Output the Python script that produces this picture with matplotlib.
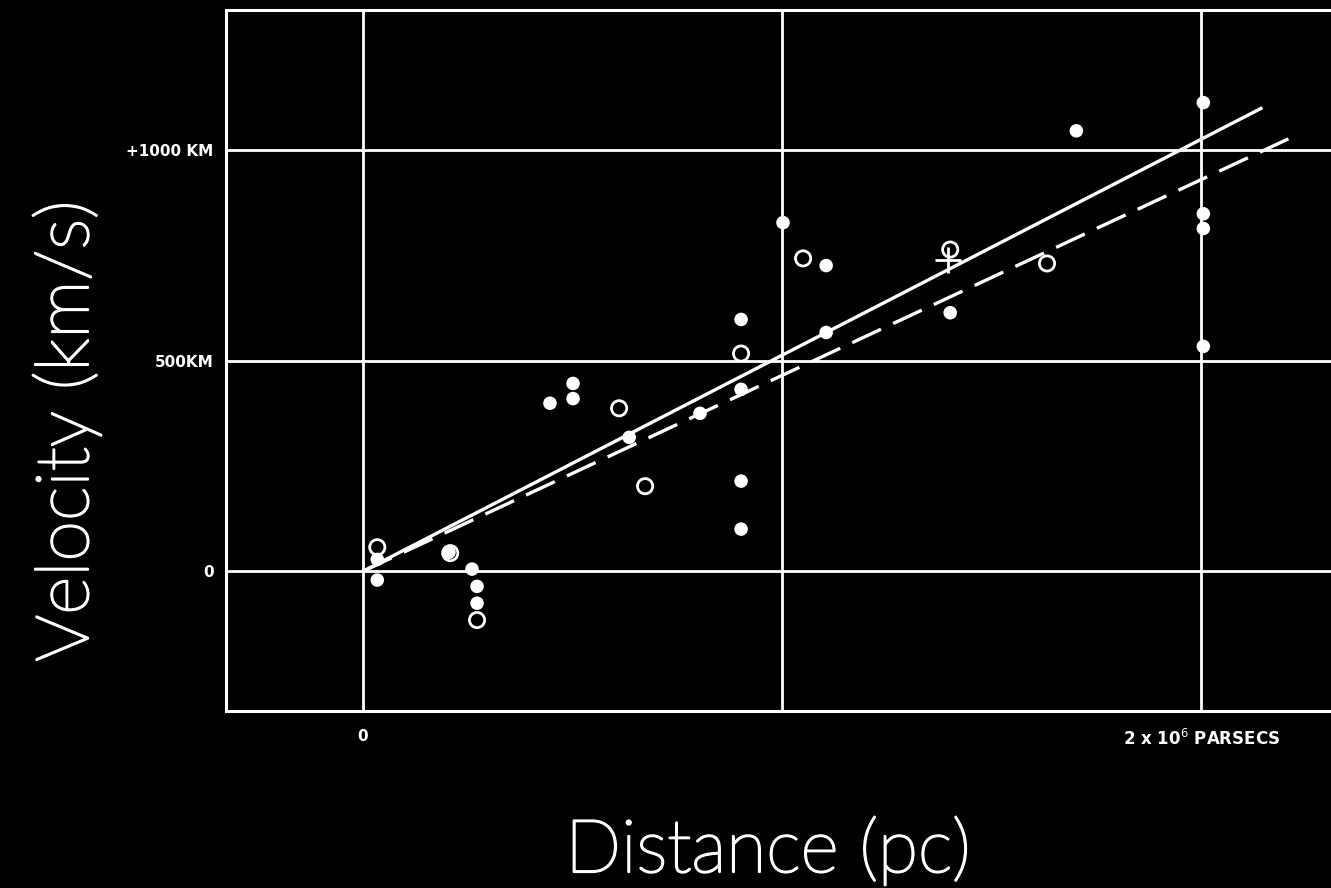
import matplotlib
matplotlib.use("Agg")
import matplotlib.pyplot as plt
import matplotlib.patheffects as pe

# distances in units of 10^6 parsecs, velocities in km/s
filled_d = [0.034, 0.034, 0.205, 0.260, 0.272, 0.272, 0.446, 0.501, 0.501, 0.635,
            0.804, 0.902, 0.902, 0.902, 0.902, 1.002, 1.105, 1.105, 1.401, 1.702,
            2.005, 2.005, 2.005, 2.005]
filled_v = [28, -21, 45, 5, -36, -76, 399, 446, 410, 318,
            375, 432, 214, 100, 598, 828, 726, 567, 614, 1046,
            1113, 849, 814, 534]

open_d = [0.034, 0.208, 0.272, 0.611, 0.673, 0.902, 1.050, 1.401, 1.632]
open_v = [57, 43, -116, 387, 202, 517, 743, 764, 731]

# mean of the group without individual distances
cross_d = [1.395]
cross_v = [740]

# the two fitted relations
solid_d = [0.0, 2.146]
solid_v = [0, 1101]
dashed_d = [0.0, 2.208]
dashed_v = [0, 1027]

x_ticks = [0, 1, 2]
x_labels = ["0", "", r"2 x 10$^{6}$ PARSECS"]
y_ticks = [0, 500, 1000]
y_labels = ["0", "500KM", "+1000 KM"]

fig = plt.figure(figsize=(13.31, 8.88), dpi=100, facecolor="black")
ax = fig.add_axes([226 / 1331, 1 - 711 / 888, (1345 - 226) / 1331, (711 - 10) / 888])
ax.set_facecolor("black")

ax.set_xlim(-0.327, 2.343)
ax.set_ylim(-332, 1333)

for side in ["left", "top", "bottom"]:
    ax.spines[side].set_color("white")
    ax.spines[side].set_linewidth(2.2)
ax.spines["right"].set_visible(False)

ax.set_xticks(x_ticks)
ax.set_xticklabels(x_labels)
ax.set_yticks(y_ticks)
ax.set_yticklabels(y_labels)
ax.tick_params(length=0, colors="white", labelsize=11)
ax.tick_params(axis="x", pad=13)
ax.tick_params(axis="y", pad=9)
for lab in ax.get_xticklabels() + ax.get_yticklabels():
    lab.set_fontweight("bold")
    lab.set_color("white")
ax.get_xticklabels()[2].set_fontsize(12)
ax.grid(True, color="white", linewidth=2.0)
ax.set_axisbelow(True)

ax.plot(solid_d, solid_v, color="white", linewidth=2.4, solid_capstyle="butt", zorder=3)
ax.plot(dashed_d, dashed_v, color="white", linewidth=2.4, dashes=(9.5, 4), zorder=3)

ax.scatter(filled_d, filled_v, s=95, color="white", edgecolors="none", zorder=4)
ax.scatter(open_d, open_v, s=120, facecolors="none", edgecolors="white",
           linewidths=2.0, zorder=4)
ax.plot(cross_d, cross_v, marker="+", markersize=19, markeredgewidth=2.0,
        color="white", linestyle="none", zorder=4)

# thin face thickened slightly with a white outline
thicken = [pe.withStroke(linewidth=1.6, foreground="white")]
fig.text(768 / 1331, 1 - 872 / 888, "Distance (pc)", color="white", fontsize=53,
         family="Lato", weight="light", ha="center", va="baseline",
         path_effects=thicken)
fig.text(88 / 1331, 1 - 431 / 888, "Velocity (km/s)", color="white", fontsize=53,
         family="Lato", weight="light", ha="center", va="baseline", rotation=90,
         rotation_mode="anchor", path_effects=thicken)

fig.savefig("out.png", dpi=100, facecolor="black")
